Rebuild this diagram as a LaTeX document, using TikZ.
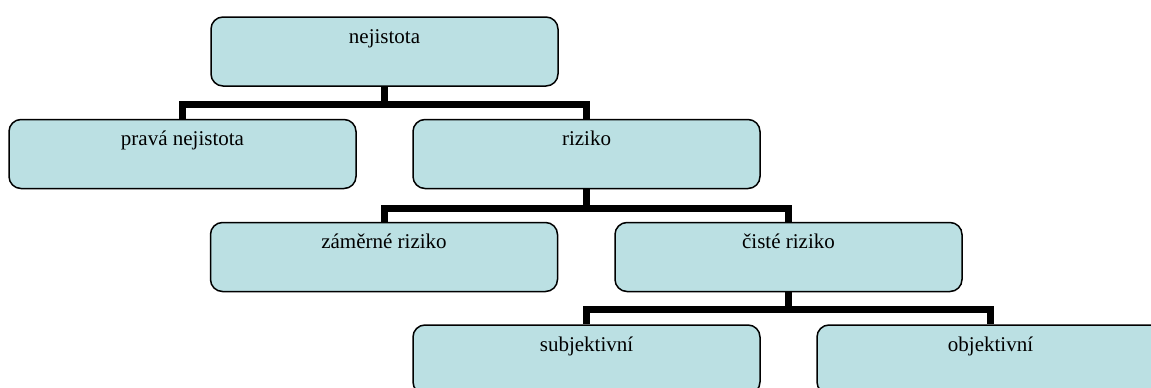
\documentclass[tikz,border=0pt]{standalone}
\usepackage{fontspec}
\setmainfont{Liberation Serif}
\usetikzlibrary{backgrounds}
\definecolor{boxfill}{RGB}{187,224,227}
\tikzset{
  box/.style={draw=black, line width=1.5pt, fill=boxfill, rounded corners=12pt,
    minimum width=347pt, inner xsep=0pt, inner ysep=0pt,
    text height=26pt, text depth=43pt,
    font=\fontsize{21}{25}\selectfont},
  conn/.style={draw=black, line width=7pt, line join=miter}
}
\begin{document}
\begin{tikzpicture}[x=1pt,y=-1pt]
\path[use as bounding box, clip] (0,0) rectangle (1151,388);
\node[box] (nej) at (384.5,51.5) {nejistota};
\node[box] (prava) at (182.5,154) {pravá nejistota};
\node[box] (riz) at (586.5,154) {riziko};
\node[box] (zam) at (384,257) {záměrné riziko};
\node[box] (cis) at (788.5,257) {čisté riziko};
\node[box] (sub) at (586.5,359.5) {subjektivní};
\node[box] (obj) at (990.5,359.5) {objektivní};
\begin{pgfonlayer}{background}
\draw[conn] (nej.south) -- ++(0,18) -| (prava.north);
\draw[conn] (nej.south) -- ++(0,18) -| (riz.north);
\draw[conn] (riz.south) -- ++(0,19) -| (zam.north);
\draw[conn] (riz.south) -- ++(0,19) -| (cis.north);
\draw[conn] (cis.south) -- ++(0,17) -| (sub.north);
\draw[conn] (cis.south) -- ++(0,17) -| (obj.north);
\end{pgfonlayer}
\end{tikzpicture}
\end{document}
